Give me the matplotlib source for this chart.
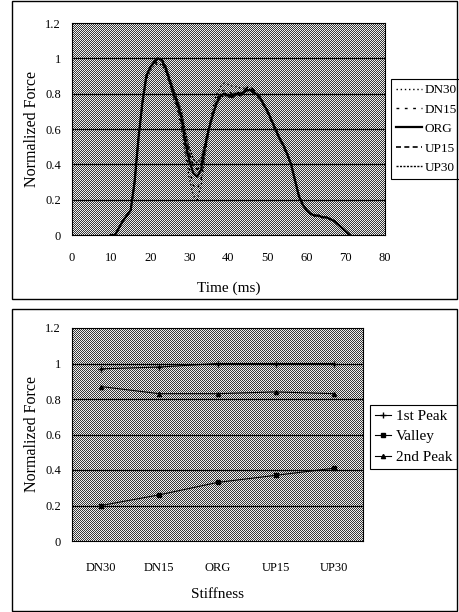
import matplotlib
matplotlib.use("Agg")
import matplotlib.pyplot as plt
import numpy as np
from matplotlib.patches import Rectangle

plt.rcParams['font.family'] = ['Liberation Serif', 'DejaVu Serif']

# ---- top panel data: normalized force vs time (ms) ----
time_ms = list(range(10, 72))
org = [0.00, 0.00, 0.04, 0.08, 0.11, 0.14, 0.30, 0.55, 0.75, 0.90, 0.95, 0.98, 1.00, 0.99, 0.94, 0.87, 0.80,
       0.74, 0.66, 0.52, 0.42, 0.35, 0.33, 0.37, 0.50, 0.60, 0.68, 0.75, 0.79, 0.80, 0.79, 0.78, 0.80, 0.79,
       0.81, 0.82, 0.82, 0.80, 0.78, 0.74, 0.70, 0.65, 0.60, 0.55, 0.51, 0.46, 0.40, 0.31, 0.22, 0.17, 0.14,
       0.12, 0.11, 0.11, 0.10, 0.10, 0.09, 0.08, 0.06, 0.04, 0.02, 0.00]
dn30 = [0.00, 0.00, 0.04, 0.08, 0.11, 0.14, 0.30, 0.55, 0.74, 0.88, 0.93, 0.96, 0.97, 0.96, 0.92, 0.85, 0.77,
        0.70, 0.60, 0.45, 0.32, 0.22, 0.20, 0.28, 0.45, 0.60, 0.72, 0.80, 0.84, 0.86, 0.85, 0.84, 0.84, 0.83,
        0.83, 0.82, 0.81, 0.79, 0.77, 0.73, 0.69, 0.64, 0.59, 0.54, 0.50, 0.45, 0.39, 0.30, 0.22, 0.17, 0.14,
        0.12, 0.11, 0.11, 0.10, 0.10, 0.09, 0.08, 0.06, 0.04, 0.02, 0.00]
dn15 = [0.00, 0.00, 0.04, 0.08, 0.11, 0.14, 0.30, 0.55, 0.74, 0.89, 0.94, 0.97, 0.98, 0.97, 0.93, 0.86, 0.78,
        0.72, 0.63, 0.48, 0.37, 0.28, 0.26, 0.32, 0.47, 0.59, 0.69, 0.77, 0.81, 0.82, 0.81, 0.80, 0.81, 0.80,
        0.82, 0.82, 0.81, 0.79, 0.77, 0.73, 0.69, 0.64, 0.59, 0.55, 0.50, 0.45, 0.40, 0.31, 0.22, 0.17, 0.14,
        0.12, 0.11, 0.11, 0.10, 0.10, 0.09, 0.08, 0.06, 0.04, 0.02, 0.00]
up15 = [0.00, 0.00, 0.04, 0.08, 0.11, 0.14, 0.30, 0.55, 0.75, 0.90, 0.95, 0.98, 1.00, 0.99, 0.95, 0.88, 0.81,
        0.75, 0.68, 0.55, 0.46, 0.39, 0.37, 0.40, 0.51, 0.61, 0.68, 0.75, 0.79, 0.80, 0.79, 0.79, 0.81, 0.80,
        0.82, 0.84, 0.83, 0.81, 0.78, 0.74, 0.70, 0.65, 0.60, 0.55, 0.51, 0.46, 0.40, 0.31, 0.22, 0.17, 0.14,
        0.12, 0.11, 0.11, 0.10, 0.10, 0.09, 0.08, 0.06, 0.04, 0.02, 0.00]
up30 = [0.00, 0.00, 0.04, 0.08, 0.11, 0.14, 0.30, 0.55, 0.75, 0.90, 0.95, 0.98, 1.00, 0.99, 0.95, 0.89, 0.82,
        0.76, 0.70, 0.58, 0.49, 0.43, 0.41, 0.43, 0.52, 0.61, 0.68, 0.74, 0.78, 0.79, 0.78, 0.78, 0.80, 0.80,
        0.81, 0.83, 0.82, 0.80, 0.78, 0.74, 0.70, 0.65, 0.60, 0.55, 0.51, 0.46, 0.40, 0.31, 0.22, 0.17, 0.14,
        0.12, 0.11, 0.11, 0.10, 0.10, 0.09, 0.08, 0.06, 0.04, 0.02, 0.00]
curve_names = ['DN30', 'DN15', 'ORG', 'UP15', 'UP30']

# ---- bottom panel data: peaks vs stiffness ----
stiffness = ['DN30', 'DN15', 'ORG', 'UP15', 'UP30']
first_peak = [0.97, 0.98, 1.00, 1.00, 1.00]
valley = [0.20, 0.26, 0.33, 0.37, 0.41]
second_peak = [0.87, 0.83, 0.83, 0.84, 0.83]

W, H = 459, 612
fig = plt.figure(figsize=(W / 100, H / 100), dpi=100)

# panel frames
fig.patches.append(Rectangle((12 / W, 1 - 299 / H), 445 / W, 298 / H, transform=fig.transFigure,
                             fill=False, lw=1.0, ec='black'))
fig.patches.append(Rectangle((12 / W, 1 - 611 / H), 445 / W, 302 / H, transform=fig.transFigure,
                             fill=False, lw=1.0, ec='black'))


def style_ax(ax, w, h):
    # dithered grey background (1px checker, like the printed screen)
    yy, xx = np.indices((h, w))
    checker = np.where((xx + yy) % 2 == 0, 0.22, 0.93)
    ax.imshow(checker, cmap='gray', vmin=0, vmax=1, interpolation='nearest', aspect='auto',
              extent=(0, 1, 0, 1), transform=ax.transAxes, zorder=0)
    ax.set_ylim(0, 1.2)
    ax.set_yticks([0, 0.2, 0.4, 0.6, 0.8, 1.0, 1.2])
    ax.set_yticklabels(['0', '0.2', '0.4', '0.6', '0.8', '1', '1.2'])
    for y in [0.2, 0.4, 0.6, 0.8, 1.0]:
        ax.axhline(y, color='black', lw=0.9, zorder=1)
    for s in ax.spines.values():
        s.set_linewidth(0.8)
    ax.tick_params(length=0, labelsize=9)
    ax.set_ylabel('Normalized Force', fontsize=11.5)


# top panel
ax1 = fig.add_axes([72 / W, 1 - 235 / H, 313 / W, 212 / H])
ax1.set_xlim(0, 80)
style_ax(ax1, 313, 212)
ax1.set_xlim(0, 80)
ax1.tick_params(axis='x', pad=12)
ax1.tick_params(axis='y', pad=8)
ax1.set_xticks(range(0, 81, 10))
series = [dn30, dn15, org, up15, up30]
styles = [(0, (1, 2)), (0, (2, 4)), '-', (0, (3, 2)), (0, (1.5, 1))]
widths = [1.0, 1.0, 1.6, 1.2, 1.0]
for name, vals, ls, lw in zip(curve_names, series, styles, widths):
    ax1.plot(time_ms, vals, color='black', ls=ls, lw=lw, label=name, zorder=3)
ax1.set_xlabel('Time (ms)', fontsize=11, labelpad=13)
leg1 = ax1.legend(loc='center left', bbox_to_anchor=(1.019, 0.5), fontsize=9.5, frameon=True,
                  fancybox=False, edgecolor='black', handlelength=2.0, handletextpad=0.2,
                  borderpad=0.35, labelspacing=0.55, borderaxespad=0, framealpha=1)
leg1.get_frame().set_linewidth(0.8)

# bottom panel
ax2 = fig.add_axes([72 / W, 1 - 541 / H, 291 / W, 213 / H])
x = range(len(stiffness))
ax2.set_xlim(-0.5, len(stiffness) - 0.5)
style_ax(ax2, 291, 213)
ax2.set_xlim(-0.5, len(stiffness) - 0.5)
ax2.tick_params(axis='x', pad=15)
ax2.tick_params(axis='y', pad=8)
ax2.plot(x, first_peak, color='black', lw=0.8, marker='+', ms=4, label='1st Peak', zorder=3)
ax2.plot(x, valley, color='black', lw=0.8, marker='s', ms=2.5, label='Valley', zorder=3)
ax2.plot(x, second_peak, color='black', lw=0.8, marker='^', ms=3, label='2nd Peak', zorder=3)
ax2.set_xticks(list(x))
ax2.set_xticklabels(stiffness)
ax2.set_xlabel('Stiffness', fontsize=11, labelpad=10)
leg2 = ax2.legend(loc='center left', bbox_to_anchor=(1.024, 0.49), fontsize=11, frameon=True,
                  fancybox=False, edgecolor='black', handlelength=1.1, handletextpad=0.3,
                  borderpad=0.3, labelspacing=0.45, borderaxespad=0, framealpha=1)
leg2.get_frame().set_linewidth(0.8)

fig.savefig('out.png', dpi=100)
